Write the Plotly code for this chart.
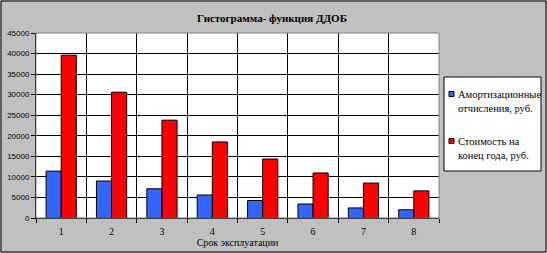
import plotly.graph_objects as go

categories = ["1", "2", "3", "4", "5", "6", "7", "8"]
amort = [11400, 9000, 7100, 5600, 4250, 3400, 2450, 2000]
cost = [39600, 30600, 23800, 18500, 14350, 10950, 8500, 6600]
series_names = ["Амортизационные отчисления, руб.", "Стоимость на конец года, руб."]
legend_lines = [["Амортизационные", "отчисления, руб."], ["Стоимость на", "конец года, руб."]]
colors = ["#3366FF", "#FF0000"]
title_text = "Гистограмма- функция ДДОБ"
x_title = "Срок эксплуатации"
y_ticks = list(range(0, 45001, 5000))
y_tick_labels = [str(v) for v in y_ticks]

W_FIG, H_FIG = 547, 253
L, R, T, B = 36, 108, 33, 35
PW = W_FIG - L - R
PH = H_FIG - T - B


def px(x):
    return (x - L) / PW


def py(y):
    return (H_FIG - B - y) / PH


SERIF = "Liberation Serif"
SANS = "Liberation Sans"

fig = go.Figure()
for vals, name, col in zip([amort, cost], series_names, colors):
    fig.add_trace(go.Bar(x=categories, y=vals, name=name, marker=dict(color=col, line=dict(color="black", width=1)),
                         showlegend=False))

shapes = [
    dict(type="rect", xref="paper", yref="paper", x0=0, x1=1, y0=0, y1=1,
         line=dict(color="#808080", width=1), fillcolor="rgba(0,0,0,0)"),
    dict(type="rect", xref="paper", yref="paper", x0=px(1), x1=px(546), y0=py(252), y1=py(1),
         line=dict(color="black", width=1), fillcolor="rgba(0,0,0,0)"),
    dict(type="rect", xref="paper", yref="paper", x0=px(444), x1=px(541), y0=py(171), y1=py(77),
         line=dict(color="black", width=1), fillcolor="white"),
]
annotations = []
sym_y = [94, 141]
for i, (lines, col) in enumerate(zip(legend_lines, colors)):
    yc = sym_y[i]
    shapes.append(dict(type="rect", xref="paper", yref="paper", x0=px(449), x1=px(454),
                       y0=py(yc + 2.5), y1=py(yc - 2.5), line=dict(color="black", width=1), fillcolor=col))
    for j, ln in enumerate(lines):
        annotations.append(dict(xref="paper", yref="paper", x=px(456), y=py(yc + j * 14.5), text=ln,
                                showarrow=False, xanchor="left", yanchor="middle",
                                font=dict(family=SERIF, size=10.5, color="black")))

fig.update_layout(
    width=W_FIG, height=H_FIG,
    margin=dict(l=L, r=R, t=T, b=B, pad=0, autoexpand=False),
    paper_bgcolor="#C0C0C0", plot_bgcolor="white",
    barmode="group", bargap=0.4, bargroupgap=0,
    title=dict(text="<b>" + title_text + "</b>", x=272 / W_FIG, xanchor="center", y=1 - 18 / H_FIG,
               yanchor="middle", yref="container", xref="container",
               font=dict(family=SERIF, size=11, color="black")),
    shapes=shapes, annotations=annotations,
    showlegend=False,
)
fig.update_xaxes(type="category", tickson="boundaries", ticks="outside", ticklen=4, tickcolor="black",
                 showgrid=True, gridcolor="black", gridwidth=1, showline=True, linecolor="black", linewidth=1,
                 automargin=False, ticklabelstandoff=4,
                 tickfont=dict(family=SERIF, size=10, color="black"),
                 title=dict(text=x_title, font=dict(family=SERIF, size=10, color="black"), standoff=1))
fig.update_yaxes(range=[0, 45000], tickvals=y_ticks, ticktext=y_tick_labels, ticks="outside", ticklen=4,
                 tickcolor="black", showgrid=True, gridcolor="black", gridwidth=1, showline=True,
                 linecolor="black", linewidth=1, zeroline=False, automargin=False,
                 tickfont=dict(family=SANS, size=8, color="black"))

fig.write_html("out.html")
